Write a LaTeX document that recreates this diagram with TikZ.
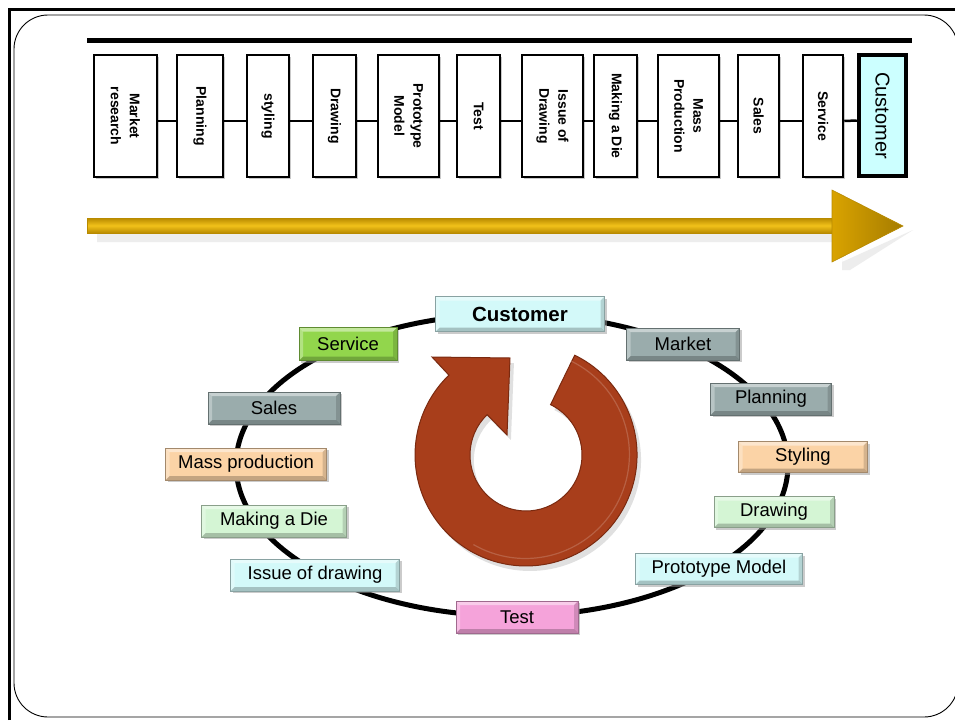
\documentclass[tikz,border=0pt]{standalone}
\usepackage{fontspec}
\setmainfont{Liberation Sans}
\usetikzlibrary{shadows,calc}
\definecolor{cyanl}{HTML}{D3F9F9}
\definecolor{grayb}{HTML}{9AACAC}
\definecolor{orangel}{HTML}{FBD3A6}
\definecolor{greenl}{HTML}{D4F5D4}
\definecolor{pinkb}{HTML}{F5A3DA}
\definecolor{greenb}{HTML}{92D64C}
\definecolor{rust}{HTML}{A83E1B}
\definecolor{rustd}{HTML}{7A2A10}
\definecolor{goldm}{HTML}{F2C21A}
\definecolor{goldd}{HTML}{B88A00}
\definecolor{goldh}{HTML}{D9A300}
\definecolor{topcyan}{HTML}{CCFFFF}
\tikzset{
  tbox/.style={draw=black, line width=2.5pt, fill=white, rotate=-90, inner sep=0pt,
    align=center, font=\fontsize{14}{19}\selectfont\bfseries,
    drop shadow={shadow xshift=2pt, shadow yshift=-2pt, fill=black!35, opacity=.6}},
  conn/.style={line width=2.5pt},
  bevel/.style={path picture={
    \fill[white, opacity=.45] (path picture bounding box.north west) -- (path picture bounding box.north east)
      -- ([xshift=-4pt,yshift=-4pt]path picture bounding box.north east) -- ([xshift=4pt,yshift=-4pt]path picture bounding box.north west) -- cycle;
    \fill[black, opacity=.22] (path picture bounding box.south west) -- (path picture bounding box.south east)
      -- ([xshift=-4pt,yshift=4pt]path picture bounding box.south east) -- ([xshift=4pt,yshift=4pt]path picture bounding box.south west) -- cycle;
    \fill[black, opacity=.15] (path picture bounding box.south east) -- (path picture bounding box.north east)
      -- ([xshift=-4pt,yshift=-4pt]path picture bounding box.north east) -- ([xshift=-4pt,yshift=4pt]path picture bounding box.south east) -- cycle;
    \fill[white, opacity=.3] (path picture bounding box.south west) -- (path picture bounding box.north west)
      -- ([xshift=4pt,yshift=-4pt]path picture bounding box.north west) -- ([xshift=4pt,yshift=4pt]path picture bounding box.south west) -- cycle;
  }},
  cbox/.style={fill=#1, draw=#1!65!black, line width=1pt, inner sep=0pt, bevel,
    font=\fontsize{18.5}{22}\selectfont,
    drop shadow={shadow xshift=2pt, shadow yshift=-2pt, fill=black!40, opacity=.5}},
}
\begin{document}
\begin{tikzpicture}[x=1pt,y=-1pt]
\useasboundingbox (0,0) rectangle (955,720);
\clip (0,0) rectangle (955,720);
\fill[white] (0,0) rectangle (955,720);
% frame
\draw[line width=3pt] (9,720) -- (9,9) -- (960,9);
\draw[line width=0.9pt] (14,717) [rounded corners=34pt] -- (14,15) -- (958,15) -- (958,717) -- cycle;
% top bar
\draw[line width=5pt] (87,40.5) -- (912,40.5);
% top boxes
\node[tbox, minimum width=122pt, minimum height=63pt] (t1) at (125.5,116) {Market\\research};
\node[tbox, minimum width=122pt, minimum height=46pt] (t2) at (200,116) {Planning};
\node[tbox, minimum width=122pt, minimum height=42pt] (t3) at (268,116) {styling};
\node[tbox, minimum width=122pt, minimum height=43pt] (t4) at (334.5,116) {Drawing};
\node[tbox, minimum width=122pt, minimum height=61pt] (t5) at (408.5,116) {Prototype\\Model};
\node[tbox, minimum width=122pt, minimum height=43pt] (t6) at (478.5,116) {Test};
\node[tbox, minimum width=122pt, minimum height=61pt] (t7) at (552.5,116) {Issue of\\Drawing};
\node[tbox, minimum width=122pt, minimum height=43pt] (t8) at (615.5,116) {Making a Die};
\node[tbox, minimum width=122pt, minimum height=61pt] (t9) at (688.5,116) {Mass\\Production};
\node[tbox, minimum width=122pt, minimum height=41pt] (t10) at (758.5,116) {Sales};
\node[tbox, minimum width=122pt, minimum height=40pt] (t11) at (823,116) {Service};
\node[tbox, line width=4.5pt, fill=topcyan, minimum width=121pt, minimum height=47pt,
  font=\fontsize{20}{24}\selectfont] (t12) at (882.5,115.5) {Customer};
\foreach \a/\b in {t1/t2,t2/t3,t3/t4,t4/t5,t5/t6,t6/t7,t7/t8,t8/t9,t9/t10,t10/t11,t11/t12}
  \draw[conn] ([yshift=-5pt]\a.north) -- ([yshift=-5pt]\b.south);
% gold arrow shadow
\fill[black!7] (97,233) -- (842,233) -- (842,262) -- (913,230) -- (850,270) -- (842,270) -- (842,242) -- (97,242) -- cycle;
% gold arrow
\shade[top color=goldd, bottom color=goldd, middle color=goldm] (87,218) rectangle (836,233);
\draw[goldd, line width=0.6pt] (87,218) rectangle (836,233);
\shade[left color=goldh, right color=goldd!90!black] (832,190) -- (903,226) -- (832,262) -- cycle;
\draw[goldd, line width=0.6pt] (832,190) -- (903,226) -- (832,262) -- cycle;
% cycle ellipse
\draw[line width=5pt] (512,465) ellipse [x radius=276, y radius=151];
% circular arrow
\fill[black, opacity=.12]
  ([shift={(4,5)}]574.7,355.2) arc[start angle=-64, end angle=226, radius=111]
  -- ++(-17,-18) -- ++(78,1) -- ++(-3,77) -- ++(-20,-20)
  arc[start angle=226, end angle=-64, radius=56] -- cycle;
\fill[rust, draw=rustd, line width=1pt]
  (574.7,355.2) arc[start angle=-64, end angle=226, radius=111]
  -- (432,357) -- (510,358) -- (507,435) -- (487.1,414.7)
  arc[start angle=226, end angle=-64, radius=56] -- cycle;
\draw[rust!70!white, line width=1.2pt, opacity=.6]
  (571,361) arc[start angle=-64, end angle=120, radius=104];
% cycle boxes
\node[cbox=cyanl, minimum width=169pt, minimum height=35pt, font=\fontsize{20.5}{24}\selectfont\bfseries] (c1) at (520,314) {Customer};
\node[cbox=grayb, minimum width=113pt, minimum height=32pt] (c2) at (683,344) {Market};
\node[cbox=grayb, minimum width=121pt, minimum height=32pt] (c3) at (771,399) {Planning};
\node[cbox=orangel, minimum width=129pt, minimum height=31pt] (c4) at (803,457) {Styling};
\node[cbox=greenl, minimum width=120pt, minimum height=31pt] (c5) at (774,512) {Drawing};
\node[cbox=cyanl, minimum width=167pt, minimum height=31pt] (c6) at (719,569) {Prototype Model};
\node[cbox=pinkb, minimum width=122pt, minimum height=32pt] (c7) at (517,617) {Test};
\node[cbox=cyanl, minimum width=169pt, minimum height=32pt] (c8) at (315,575) {Issue of drawing};
\node[cbox=greenl, minimum width=145pt, minimum height=32pt] (c9) at (274,521) {Making a Die};
\node[cbox=orangel, minimum width=161pt, minimum height=32pt] (c10) at (246,464) {Mass production};
\node[cbox=grayb, minimum width=132pt, minimum height=32pt] (c11) at (274,408) {Sales};
\node[cbox=greenb, minimum width=98pt, minimum height=33pt] (c12) at (348,344) {Service};
\end{tikzpicture}
\end{document}
